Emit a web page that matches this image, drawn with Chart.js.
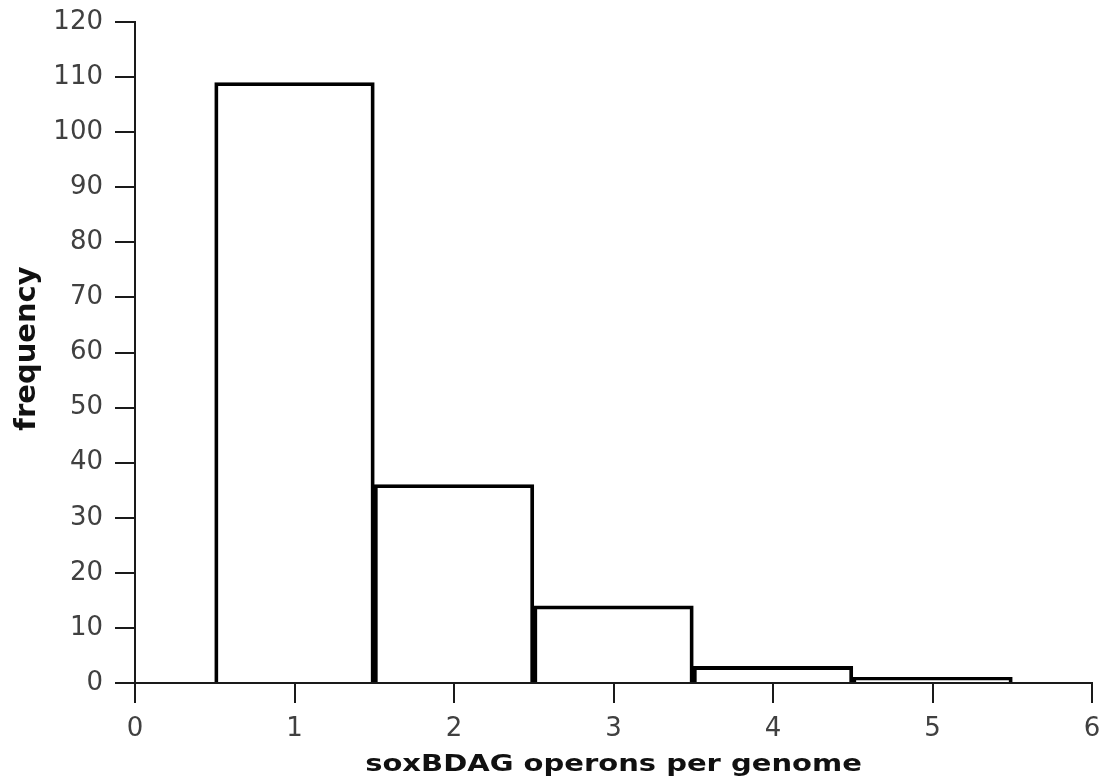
<!DOCTYPE html>
<html>
<head>
<meta charset="utf-8">
<script src="https://cdn.jsdelivr.net/npm/chart.js@4/dist/chart.umd.min.js"></script>
<style>
  html, body { margin: 0; padding: 0; background: #ffffff; }
  #wrap { width: 1104px; height: 782px; position: relative; }
</style>
</head>
<body>
<div id="wrap"><canvas id="hist"></canvas></div>
<script>
// soxBDAG operon copy number per genome and how many genomes have it
const operonCounts = [1, 2, 3, 4, 5];
const genomeFrequency = [109, 36, 14, 3, 1];
const xTickValues = [0, 1, 2, 3, 4, 5, 6];
const yTickValues = [0, 10, 20, 30, 40, 50, 60, 70, 80, 90, 100, 110, 120];

const axisColor = '#1a1a1a';
const tickFont = { family: 'DejaVu Sans', size: 26, lineHeight: 1 };
const xTitleFont = { family: 'DejaVu Sans', size: 29, weight: 'bold', lineHeight: 1 };
const yTitleFont = { family: 'DejaVu Sans', size: 29, weight: 'bold', lineHeight: 1.2 };

// Axis titles: the x title is set in a flattened (wide) face, the y title sits a little above centre
const baseDrawTitle = Chart.Scale.prototype.drawTitle;
Chart.Scale.prototype.drawTitle = function () {
  const ctx = this.ctx;
  ctx.save();
  if (this.axis === 'y') {
    ctx.translate(0, -4);
  } else {
    const cy = this.bottom - 17;
    ctx.translate(0, cy);
    ctx.scale(1, 0.8);
    ctx.translate(0, -cy);
  }
  baseDrawTitle.apply(this, arguments);
  ctx.restore();
};

new Chart(document.getElementById('hist'), {
  type: 'bar',
  data: {
    datasets: [{
      data: operonCounts.map((x, i) => ({ x: x, y: genomeFrequency[i] })),
      backgroundColor: 'rgba(0,0,0,0)',
      borderColor: '#000000',
      borderWidth: 3,
      inflateAmount: 0.4,
      borderSkipped: 'bottom',
      barPercentage: 1,
      categoryPercentage: 1
    }]
  },
  options: {
    responsive: true,
    maintainAspectRatio: false,
    animation: false,
    events: [],
    layout: { padding: { top: 22, right: 12, bottom: 0, left: 0 } },
    plugins: { legend: { display: false }, tooltip: { enabled: false } },
    scales: {
      x: {
        type: 'linear',
        min: 0,
        max: 6,
        offset: false,
        afterBuildTicks: s => { s.ticks = xTickValues.map(v => ({ value: v })); },
        afterFit: s => { s.height = 99; s.paddingLeft = 0; s.paddingRight = 0; },
        ticks: { color: '#404040', font: tickFont, padding: 13, maxRotation: 0 },
        grid: { display: true, offset: false, drawOnChartArea: false, drawTicks: true, tickLength: 20, color: axisColor, lineWidth: 2 },
        border: { display: true, color: axisColor, width: 2 },
        title: { display: true, text: 'soxBDAG operons per genome', color: '#111', font: xTitleFont, padding: { top: 0, bottom: 2.5 } }
      },
      y: {
        type: 'linear',
        min: 0,
        max: 120,
        afterBuildTicks: s => { s.ticks = yTickValues.map(v => ({ value: v })); },
        afterFit: s => { s.width = 135; s.paddingTop = 0; s.paddingBottom = 0; },
        ticks: { color: '#404040', font: tickFont, padding: 12 },
        grid: { display: true, drawOnChartArea: false, drawTicks: true, tickLength: 20, color: axisColor, lineWidth: 2 },
        border: { display: true, color: axisColor, width: 2 },
        title: { display: true, text: 'frequency', color: '#111', font: yTitleFont, padding: { top: 10, bottom: 0 } }
      }
    }
  }
});
</script>
</body>
</html>
